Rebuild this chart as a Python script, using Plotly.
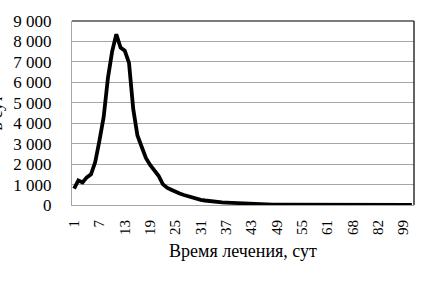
import plotly.graph_objects as go

days = [str(d) for d in range(1, 62)] + [
    "62", "63", "64", "65", "66", "68",
    "69", "70", "72", "74", "77", "82",
    "84", "86", "88", "91", "95", "99",
    "105", "113",
]

values = [
    800, 1200, 1100, 1350, 1500, 2100, 3150, 4300, 6200, 7500,
    8350, 7700, 7550, 6950, 4700, 3400, 2850, 2300, 1960, 1720,
    1430, 1020, 850, 750, 640, 560, 490, 420, 370, 320,
    250, 220, 190, 160, 140, 130, 120, 110, 100, 95,
    85, 60, 30, 25, 25, 20, 20, 20, 18, 18,
    15, 15, 15, 12, 12, 12, 10, 10, 10, 10,
    8, 8, 8, 8, 6, 6, 6, 6, 5, 5,
    5, 5, 4, 4, 4, 3, 3, 3, 2, 2,
    2,
]

tick_labels = ["1", "7", "13", "19", "25", "31", "37", "43", "49", "55", "61", "68", "82", "99"]
y_ticks = [0, 1000, 2000, 3000, 4000, 5000, 6000, 7000, 8000, 9000]
y_text = ["0", "1 000", "2 000", "3 000", "4 000", "5 000", "6 000", "7 000", "8 000", "9 000"]

x_title = "Время лечения, сут"
y_title = "в сут"

serif = "Liberation Serif, Times New Roman, serif"

fig = go.Figure()
fig.add_trace(go.Scatter(
    x=days, y=values, mode="lines",
    line=dict(color="black", width=3.8),
    hoverinfo="skip",
))

fig.update_layout(
    width=438, height=288,
    margin=dict(l=72, r=24, t=14, b=83),
    paper_bgcolor="white", plot_bgcolor="white",
    showlegend=False,
    font=dict(family=serif, color="black"),
    xaxis=dict(
        type="category",
        categoryorder="array", categoryarray=days,
        range=[-0.5, len(days) - 0.5],
        tickmode="array", tickvals=tick_labels, ticktext=tick_labels,
        tickangle=-90,
        tickfont=dict(family=serif, size=15, color="black"),
        ticks="outside", ticklen=8, tickcolor="rgba(0,0,0,0)",
        showgrid=False, zeroline=False,
        showline=True, linecolor="#a6a6a6", linewidth=1,
        title=dict(text=x_title, font=dict(family=serif, size=18, color="black"), standoff=10),
    ),
    yaxis=dict(
        range=[0, 9000],
        tickmode="array", tickvals=y_ticks, ticktext=y_text,
        tickfont=dict(family=serif, size=17, color="black"),
        ticks="outside", ticklen=16, tickcolor="rgba(0,0,0,0)",
        showgrid=True, gridcolor="#a6a6a6", gridwidth=1,
        zeroline=False,
        showline=True, linecolor="#a6a6a6", linewidth=1,
    ),
    shapes=[
        dict(type="line", xref="paper", yref="paper", x0=0, x1=1, y0=1, y1=1,
             line=dict(color="#505050", width=1.5)),
        dict(type="line", xref="paper", yref="paper", x0=1, x1=1, y0=0, y1=1,
             line=dict(color="#303030", width=1.5)),
    ],
    annotations=[
        dict(text=y_title, xref="paper", yref="paper", x=-0.19, y=0.5,
             xanchor="right", yanchor="middle", textangle=-90, showarrow=False,
             font=dict(family=serif, size=17, color="black")),
    ],
)

fig.write_html("out.html")
